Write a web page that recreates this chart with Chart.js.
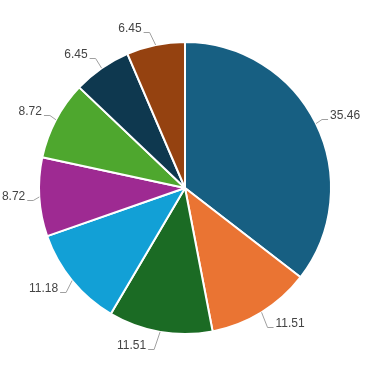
<!DOCTYPE html>
<html>
<head>
<meta charset="utf-8">
<script src="https://cdn.jsdelivr.net/npm/chart.js@4/dist/chart.umd.min.js"></script>
<style>
  html, body { margin: 0; padding: 0; background: #ffffff; }
  #wrap { width: 371px; height: 381px; position: relative; }
</style>
</head>
<body>
<div id="wrap"><canvas id="c"></canvas></div>
<script>
const categories = ['A', 'B', 'C', 'D', 'E', 'F', 'G', 'H'];
const values = [35.46, 11.51, 11.51, 11.18, 8.72, 8.72, 6.45, 6.45];
const valueLabels = ['35.46', '11.51', '11.51', '11.18', '8.72', '8.72', '6.45', '6.45'];
const colors = ['#175f82', '#ea7433', '#1b6b24', '#12a0d6', '#9e2a92', '#4ea72e', '#0e384f', '#954210'];

const labelPlugin = {
  id: 'pieLabels',
  afterDatasetsDraw(chart) {
    const ctx = chart.ctx;
    const meta = chart.getDatasetMeta(0);
    ctx.save();
    ctx.font = '12px "Liberation Sans", Arial, sans-serif';
    ctx.textBaseline = 'middle';
    meta.data.forEach((arc, i) => {
      const p = arc.getProps(['x', 'y', 'startAngle', 'endAngle', 'outerRadius'], true);
      const mid = (p.startAngle + p.endAngle) / 2;
      const ux = Math.cos(mid), uy = Math.sin(mid);
      const r = p.outerRadius;
      const ex = p.x + r * ux, ey = p.y + r * uy;
      const right = ux >= 0;
      const sgn = right ? 1 : -1;
      const ax = ex + sgn * 12;
      const ay = Math.round(ey + 15 * uy + 2);
      const bx = ax - sgn * 6;
      ctx.strokeStyle = '#a0a0a0';
      ctx.lineWidth = 1;
      ctx.beginPath();
      ctx.moveTo(ex, ey);
      ctx.lineTo(bx, ay + 0.5);
      ctx.lineTo(ax, ay + 0.5);
      ctx.stroke();
      ctx.fillStyle = '#444444';
      ctx.textAlign = right ? 'left' : 'right';
      ctx.fillText(valueLabels[i], ax + sgn * 2, ay - 3);
    });
    ctx.restore();
  }
};

new Chart(document.getElementById('c'), {
  type: 'pie',
  data: {
    labels: categories,
    datasets: [{
      data: values,
      backgroundColor: colors,
      borderColor: '#ffffff',
      borderWidth: 2
    }]
  },
  options: {
    responsive: true,
    maintainAspectRatio: false,
    animation: false,
    layout: { padding: { left: 38, right: 39, top: 41, bottom: 46 } },
    plugins: { legend: { display: false }, tooltip: { enabled: false } }
  },
  plugins: [labelPlugin]
});
</script>
</body>
</html>
